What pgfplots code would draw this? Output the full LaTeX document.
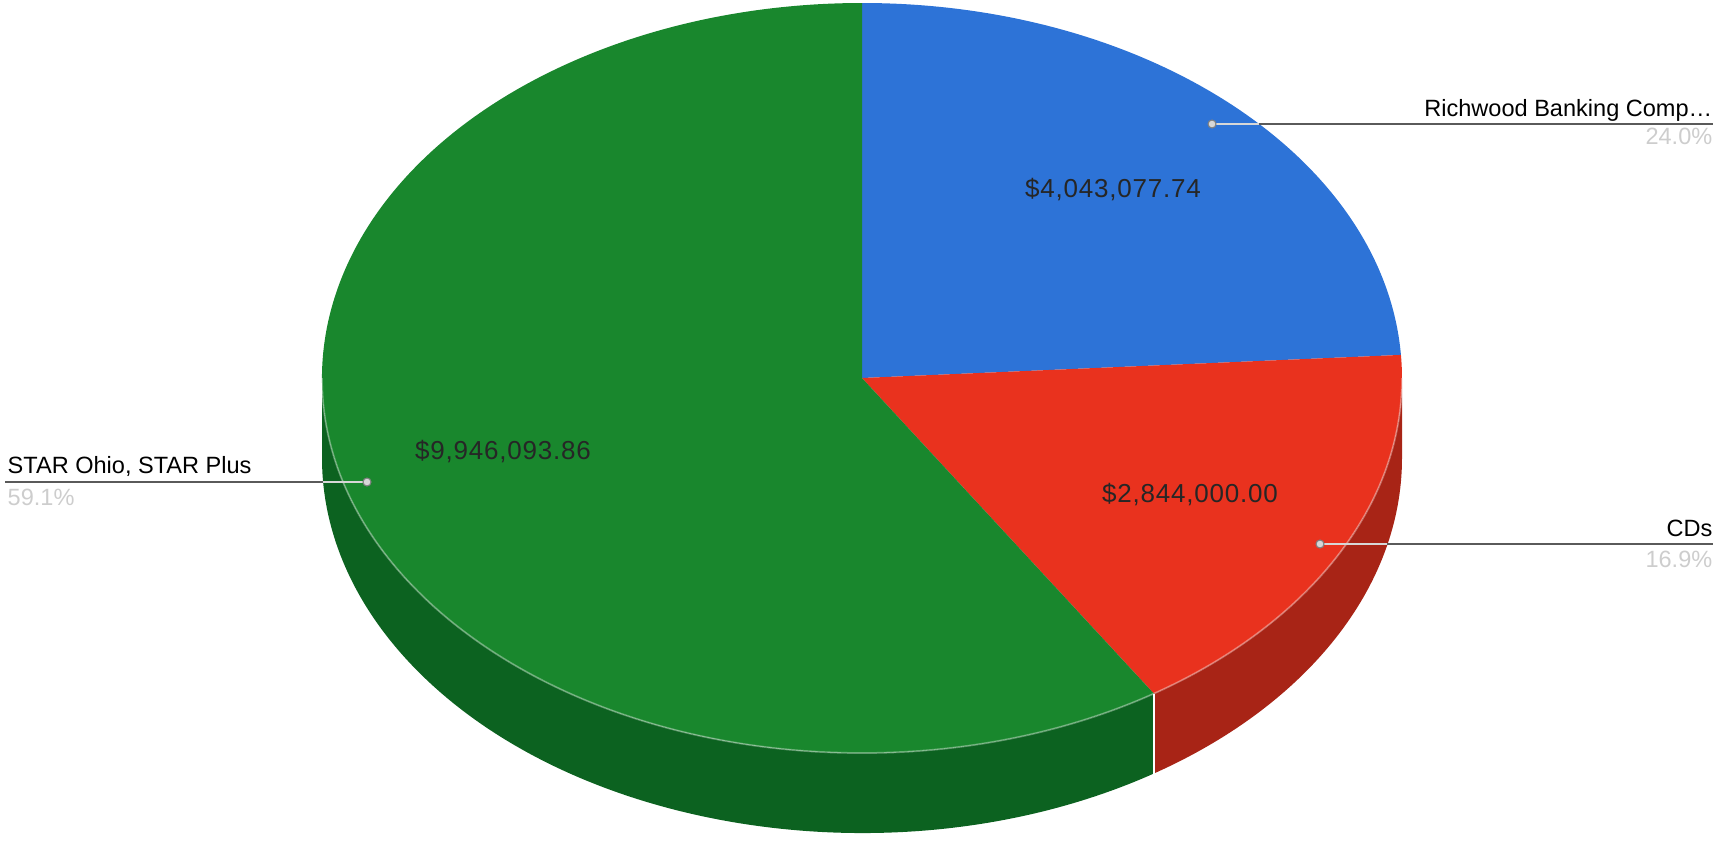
\documentclass[border=0pt]{standalone}
\usepackage{pgfplots}
\pgfplotsset{compat=1.18}
\usepackage{pgfplotstable}
\usepackage{fontspec}
\setmainfont{Liberation Sans}
\newfontfamily\valfont[LetterSpace=3]{Liberation Sans}

\definecolor{cblue}{RGB}{45,115,215}
\definecolor{cred}{RGB}{233,50,30}
\definecolor{credside}{RGB}{168,36,22}
\definecolor{cgreen}{RGB}{25,135,45}
\definecolor{cgreenside}{RGB}{12,98,32}
\definecolor{leaddark}{RGB}{90,90,90}
\definecolor{leadlight}{RGB}{215,215,215}
\definecolor{pctgray}{RGB}{205,205,205}

% slice values (Richwood Banking, CDs, STAR Ohio/STAR Plus)
\pgfplotstableread{
value
4043077.74
2844000.00
9946093.86
}\piedata
\pgfplotstablegetelem{0}{value}\of\piedata \let\vA\pgfplotsretval
\pgfplotstablegetelem{1}{value}\of\piedata \let\vB\pgfplotsretval
\pgfplotstablegetelem{2}{value}\of\piedata \let\vC\pgfplotsretval
\edef\tot{\fpeval{\vA+\vB+\vC}}
\edef\aAB{\fpeval{round(90-360*\vA/\tot,4)}}
\edef\aBC{\fpeval{round(\aAB-360*\vB/\tot,4)}}
\edef\aBCp{\fpeval{round(\aBC+360,4)}}

\def\cx{862}\def\cy{463}\def\rx{540}\def\ry{375}

\begin{document}
\begin{tikzpicture}
\begin{axis}[
  scale only axis, width=17.17cm, height=8.41cm,
  xmin=0, xmax=1717, ymin=0, ymax=841, enlargelimits=false,
  hide axis, clip=false,
  /tikz/font=\fontsize{6.7pt}{8pt}\selectfont]
\path (axis cs:0,0) rectangle (axis cs:1717,841);
% side faces
\fill[cgreenside] (axis cs:{\cx-\rx},\cy) arc[start angle=180,end angle=\aBCp,x radius=5.4cm,y radius=3.75cm]
   -- ++(0,-0.8cm) arc[start angle=\aBCp,end angle=180,x radius=5.4cm,y radius=3.75cm] -- cycle;
\fill[credside] (axis cs:{\cx+\rx*cos(\aBC)},{\cy+\ry*sin(\aBC)}) arc[start angle=\aBCp,end angle=360,x radius=5.4cm,y radius=3.75cm]
   -- ++(0,-0.8cm) arc[start angle=360,end angle=\aBCp,x radius=5.4cm,y radius=3.75cm] -- cycle;
\draw[white, line width=0.5pt] (axis cs:{\cx+\rx*cos(\aBC)},{\cy+\ry*sin(\aBC)}) -- ++(0,-0.8cm);
% top faces
\fill[cblue] (axis cs:\cx,\cy) -- (axis cs:\cx,{\cy+\ry}) arc[start angle=90,end angle=\aAB,x radius=5.4cm,y radius=3.75cm] -- cycle;
\fill[cred] (axis cs:\cx,\cy) -- (axis cs:{\cx+\rx*cos(\aAB)},{\cy+\ry*sin(\aAB)}) arc[start angle=\aAB,end angle=\aBC,x radius=5.4cm,y radius=3.75cm] -- cycle;
\fill[cgreen] (axis cs:\cx,\cy) -- (axis cs:{\cx+\rx*cos(\aBC)},{\cy+\ry*sin(\aBC)}) arc[start angle=\aBC,end angle=-270,x radius=5.4cm,y radius=3.75cm] -- cycle;
\draw[white, opacity=0.35, line width=0.5pt] (axis cs:{\cx-\rx},\cy) arc[start angle=180,end angle=360,x radius=5.4cm,y radius=3.75cm];
% value labels
\node[text=black!85, font=\valfont\fontsize{7.4pt}{8.5pt}\selectfont] at (axis cs:1113,651) {\$4,043,077.74};
\node[text=black!85, font=\valfont\fontsize{7.4pt}{8.5pt}\selectfont] at (axis cs:1190,346) {\$2,844,000.00};
\node[text=black!85, font=\valfont\fontsize{7.4pt}{8.5pt}\selectfont] at (axis cs:503,389) {\$9,946,093.86};
% leader lines
\draw[leaddark, line width=0.6pt] (axis cs:1259,717) -- (axis cs:1713,717);
\draw[leadlight, line width=0.6pt] (axis cs:1212,717) -- (axis cs:1259,717);
\draw[leaddark, line width=0.6pt] (axis cs:5,359) -- (axis cs:323,359);
\draw[leadlight, line width=0.6pt] (axis cs:323,359) -- (axis cs:367,359);
\draw[leaddark, line width=0.6pt] (axis cs:1387,297) -- (axis cs:1713,297);
\draw[leadlight, line width=0.6pt] (axis cs:1320,297) -- (axis cs:1387,297);
\filldraw[fill=leadlight, draw=gray, line width=0.3pt] (axis cs:1212,717) circle[radius=0.04cm];
\filldraw[fill=leadlight, draw=gray, line width=0.3pt] (axis cs:367,359) circle[radius=0.04cm];
\filldraw[fill=leadlight, draw=gray, line width=0.3pt] (axis cs:1320,297) circle[radius=0.04cm];
% name labels
\node[anchor=base east, inner sep=0pt] at (axis cs:1713,725) {Richwood Banking Comp…};
\node[anchor=base east, inner sep=0pt, text=pctgray] at (axis cs:1713,697) {24.0\%};
\node[anchor=base west, inner sep=0pt] at (axis cs:7,368) {STAR Ohio, STAR Plus};
\node[anchor=base west, inner sep=0pt, text=pctgray] at (axis cs:7,336) {59.1\%};
\node[anchor=base east, inner sep=0pt] at (axis cs:1713,305) {CDs};
\node[anchor=base east, inner sep=0pt, text=pctgray] at (axis cs:1713,274) {16.9\%};
\end{axis}
\pgfresetboundingbox
\path (current axis.south west) rectangle (current axis.north east);
\end{tikzpicture}
\end{document}
